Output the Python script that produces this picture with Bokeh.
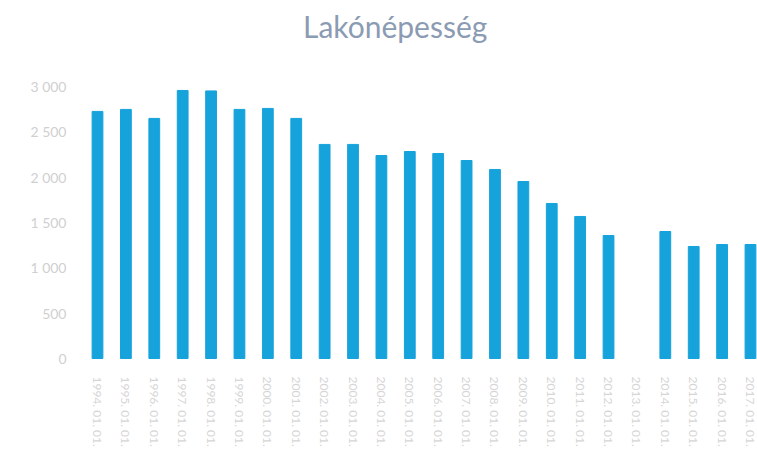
from bokeh.plotting import figure
from bokeh.models import Range1d, FixedTicker, Div
from bokeh.layouts import column
from bokeh.embed import file_html
from bokeh.resources import INLINE

title_text = "Lakónépesség"
dates = ["1994. 01. 01.", "1995. 01. 01.", "1996. 01. 01.", "1997. 01. 01.",
         "1998. 01. 01.", "1999. 01. 01.", "2000. 01. 01.", "2001. 01. 01.",
         "2002. 01. 01.", "2003. 01. 01.", "2004. 01. 01.", "2005. 01. 01.",
         "2006. 01. 01.", "2007. 01. 01.", "2008. 01. 01.", "2009. 01. 01.",
         "2010. 01. 01.", "2011. 01. 01.", "2012. 01. 01.", "2013. 01. 01.",
         "2014. 01. 01.", "2015. 01. 01.", "2016. 01. 01.", "2017. 01. 01."]
population = [2724, 2746, 2647, 2955, 2950, 2746, 2757, 2647,
              2360, 2360, 2238, 2282, 2260, 2183, 2084, 1951,
              1709, 1566, 1356, float("nan"), 1400, 1235, 1257, 1257]
y_ticks = [0, 500, 1000, 1500, 2000, 2500, 3000]
y_labels = ["0", "500", "1 000", "1 500", "2 000", "2 500", "3 000"]

xs = list(range(len(dates)))

head = Div(width=757, height=56, margin=0,
           text=('<div style="position:absolute;left:303px;top:8px;'
                 'font-family:Lato;font-size:30px;line-height:36px;'
                 'color:#8A9BB3;white-space:nowrap">' + title_text + '</div>'))

p = figure(width=757, height=407, output_backend="svg", toolbar_location=None,
           x_range=Range1d(-0.599, 23.247), y_range=Range1d(-44, 3175),
           min_border_left=80, min_border_right=0, min_border_top=14,
           min_border_bottom=101, outline_line_color=None, margin=0)

p.vbar(x=xs, top=population, bottom=0, width=0.38,
       fill_color="#16A3DC", line_color="#16A3DC")

p.xgrid.visible = False
p.ygrid.visible = False

p.xaxis.ticker = FixedTicker(ticks=xs)
p.xaxis.major_label_overrides = {i: d for i, d in enumerate(dates)}
p.xaxis.major_label_orientation = "vertical"
p.xaxis.major_label_text_color = "#D6D6D6"
p.xaxis.major_label_text_font = "Lato"
p.xaxis.major_label_text_font_size = "12px"
p.xaxis.major_label_standoff = 8
p.xaxis.axis_line_color = None
p.xaxis.major_tick_line_color = None
p.xaxis.minor_tick_line_color = None

p.yaxis.ticker = FixedTicker(ticks=y_ticks)
p.yaxis.major_label_overrides = {t: l for t, l in zip(y_ticks, y_labels)}
p.yaxis.major_label_text_color = "#D0D0D0"
p.yaxis.major_label_text_font = "Lato"
p.yaxis.major_label_text_font_size = "14px"
p.yaxis.major_label_standoff = 8
p.yaxis.axis_line_color = None
p.yaxis.major_tick_line_color = None
p.yaxis.minor_tick_line_color = None

layout = column(head, p, spacing=0)
open("out.html", "w").write(file_html(layout, INLINE))
